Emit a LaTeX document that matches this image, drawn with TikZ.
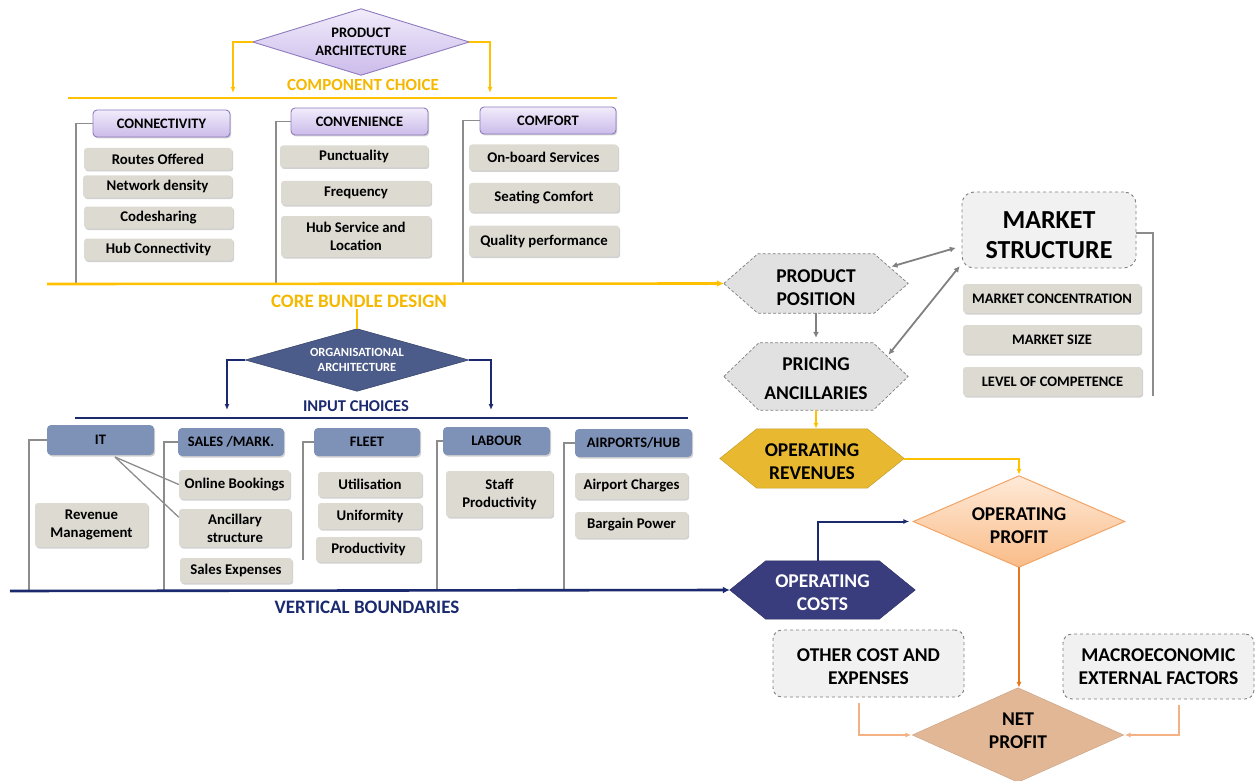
\documentclass[tikz,border=0pt]{standalone}
\usepackage{fontspec}
\setmainfont{Carlito}
\usetikzlibrary{arrows.meta,shadows,backgrounds,calc}

\definecolor{gold}{HTML}{FFC000}
\definecolor{goldtext}{HTML}{F5B800}
\definecolor{navy}{HTML}{1B2A6E}
\definecolor{itemgrey}{HTML}{DDDAD2}
\definecolor{bracketgrey}{HTML}{8C8C8C}
\definecolor{purpletop}{HTML}{F1ECFB}
\definecolor{purplebot}{HTML}{CBBBEA}
\definecolor{purpleedge}{HTML}{8E7BBE}
\definecolor{bluehead}{HTML}{7E92B8}
\definecolor{orgblue}{HTML}{4B5B8A}
\definecolor{hexgrey}{HTML}{E1E1E1}
\definecolor{boxgrey}{HTML}{F1F1F1}
\definecolor{dashgrey}{HTML}{7F7F7F}
\definecolor{revgold}{HTML}{E8B930}
\definecolor{costnavy}{HTML}{393D7E}
\definecolor{proftop}{HTML}{FFEAD8}
\definecolor{profbot}{HTML}{F9BC88}
\definecolor{profedge}{HTML}{F2A466}
\definecolor{nettan}{HTML}{E2B796}
\definecolor{darkorange}{HTML}{E8761C}
\definecolor{lightorange}{HTML}{F4B183}

% shape outlines drawn behind their (invisible) anchor nodes
\newcommand{\hexshape}[3]{\path[#3] (#1.west) -- ([xshift=#2]#1.north west) -- ([xshift=-#2]#1.north east) -- (#1.east) -- ([xshift=-#2]#1.south east) -- ([xshift=#2]#1.south west) -- cycle;}
\newcommand{\diashape}[2]{\path[#2] (#1.west) -- (#1.north) -- (#1.east) -- (#1.south) -- cycle;}

\begin{document}
\begin{tikzpicture}[x=1pt,y=-1pt,
  txt/.style={inner sep=0pt, align=center, font=\bfseries\fontsize{14.8}{18}\selectfont},
  headtxt/.style={font=\bfseries\fontsize{14.5}{18}\selectfont},
  softshadow/.style={drop shadow={shadow xshift=1.2pt, shadow yshift=-1.5pt, opacity=0.18, fill=black}},
  item/.style={txt, fill=itemgrey, rounded corners=3pt, softshadow},
  phead/.style={txt, headtxt, draw=purpleedge, line width=0.9pt, top color=purpletop, bottom color=purplebot, rounded corners=4pt, softshadow},
  bhead/.style={txt, headtxt, fill=bluehead, rounded corners=4pt, softshadow},
  anchorbox/.style={inner sep=0pt, align=center},
  bigtxt/.style={inner sep=0pt, align=center, font=\bfseries\fontsize{19.5}{23}\selectfont},
  dashbox/.style={anchorbox, draw=dashgrey, dashed, line width=0.9pt, fill=boxgrey, rounded corners=9pt},
  bracket/.style={draw=bracketgrey, line width=1.3pt},
  tipS/.style={-{Latex[length=6pt,width=5pt]}},
  ythin/.style={draw=gold, line width=1.4pt, tipS},
  ythick/.style={draw=gold, line width=2.6pt, -{Latex[length=7pt,width=7pt]}},
  nthin/.style={draw=navy, line width=1.4pt, tipS},
  nthick/.style={draw=navy, line width=2.6pt, -{Latex[length=7pt,width=7pt]}},
  garrow/.style={draw=gray, line width=1.8pt, -{Latex[length=6pt,width=6pt]}},
  gdouble/.style={draw=gray, line width=1.8pt, {Latex[length=6pt,width=6pt]}-{Latex[length=6pt,width=6pt]}},
]
\useasboundingbox (0,0) rectangle (1256,781);

% ---------------- product architecture ----------------
\node[anchorbox, minimum width=216, minimum height=66, font=\bfseries\fontsize{14.5}{18}\selectfont] (pa) at (361,42) {PRODUCT\\ARCHITECTURE};
\begin{scope}[on background layer]
  \diashape{pa}{draw=purpleedge, line width=0.9pt, top color=purpletop, bottom color=purplebot}
\end{scope}
\coordinate (paL) at (233,93);
\coordinate (paR) at (490,93);
\draw[ythin] (pa.west) -| (paL);
\draw[ythin] (pa.east) -| (paR);
\node[txt, text=goldtext, font=\bfseries\fontsize{17}{20}\selectfont] (cc) at (363,85) {COMPONENT CHOICE};
\coordinate (ccA) at (68,98);
\coordinate (ccB) at (617,98);
\draw[gold, line width=2pt] (ccA) -- (ccB);

% column headers
\node[phead, minimum width=137, minimum height=27] (hconn) at (161.5,123.5) {CONNECTIVITY};
\node[phead, minimum width=137, minimum height=27] (hconv) at (359.5,121.5) {CONVENIENCE};
\node[phead, minimum width=136, minimum height=27] (hcomf) at (548,120.5) {COMFORT};
\coordinate (bconn) at (76,284);
\coordinate (bconv) at (276,284);
\coordinate (bcomf) at (463,284);
\draw[bracket] (hconn.west) -| (bconn);
\draw[bracket] (hconv.west) -| (bconv);
\draw[bracket] (hcomf.west) -| (bcomf);

% component items
\node[item, minimum width=148, minimum height=22] (ro) at (158,159) {Routes Offered};
\node[item, minimum width=149, minimum height=22] (nd) at (157.5,186.5) {Network density};
\node[item, minimum width=149, minimum height=22] (cs) at (158.5,217.5) {Codesharing};
\node[item, minimum width=149, minimum height=22] (hc) at (158.5,249.5) {Hub Connectivity};
\node[item, minimum width=148, minimum height=22] (pu) at (354,156.5) {Punctuality};
\node[item, minimum width=150, minimum height=24] (fr) at (356,193) {Frequency};
\node[item, minimum width=150, minimum height=41] (hs) at (356,236.5) {Hub Service and\\Location};
\node[item, minimum width=149, minimum height=26] (obs) at (543.5,157.5) {On-board Services};
\node[item, minimum width=150, minimum height=29] (sc) at (544,197.5) {Seating Comfort};
\node[item, minimum width=150, minimum height=31] (qp) at (544,241) {Quality performance};

% core bundle design
\node[txt, text=goldtext, font=\bfseries\fontsize{19}{22}\selectfont] (core) at (359,301) {CORE BUNDLE DESIGN};
\coordinate (coreA) at (47,284);

% ---------------- organisational architecture ----------------
\node[anchorbox, minimum width=223, minimum height=62, text=white, font=\bfseries\fontsize{12.5}{15}\selectfont] (oa) at (357,360) {ORGANISATIONAL\\ARCHITECTURE};
\begin{scope}[on background layer]
  \diashape{oa}{fill=orgblue, draw=orgblue!80!black, line width=0.6pt}
\end{scope}
\draw[gold, line width=1.6pt] (core.south -| oa.north) ++(0,1) -- (oa.north);
\coordinate (oaL) at (227,410);
\coordinate (oaR) at (491,410);
\draw[nthin] (oa.west) -| (oaL);
\draw[nthin] (oa.east) -| (oaR);
\node[txt, text=navy, font=\bfseries\fontsize{16.5}{19}\selectfont] (ic) at (356,406) {INPUT CHOICES};
\coordinate (icA) at (75,418);
\coordinate (icB) at (688,418);
\draw[navy, line width=1.3pt] (icA) -- (icB);

% input headers
\node[bhead, minimum width=107, minimum height=30] (hit) at (100.5,440) {IT};
\node[bhead, minimum width=106, minimum height=28] (hsal) at (231,442) {SALES /MARK.};
\node[bhead, minimum width=106, minimum height=28] (hfl) at (367,442) {FLEET};
\node[bhead, minimum width=107, minimum height=28] (hlab) at (496.5,441) {LABOUR};
\node[bhead, minimum width=117, minimum height=28] (hair) at (633.5,443) {AIRPORTS/HUB};
\coordinate (bit) at (29,591);
\coordinate (bsal) at (164,591);
\coordinate (bfl) at (303,560);
\coordinate (blab) at (437,591);
\coordinate (bair) at (564,591);
\draw[bracket] (hit.west) -| (bit);
\draw[bracket] (hsal.west) -| (bsal);
\draw[bracket] (hfl.west) -| (bfl);
\draw[bracket] (hlab.west) -| (blab);
\draw[bracket] (hair.west) -| (bair);

% input items
\node[item, minimum width=113, minimum height=44] (rm) at (91.5,525) {Revenue\\Management};
\node[item, minimum width=111, minimum height=29] (ob) at (234.5,484.5) {Online Bookings};
\node[item, minimum width=112, minimum height=38] (ans) at (235,528) {Ancillary\\structure};
\node[item, minimum width=112, minimum height=25] (se) at (236,570.5) {Sales Expenses};
\node[item, minimum width=104, minimum height=25] (ut) at (370,484.5) {Utilisation};
\node[item, minimum width=104, minimum height=26] (un) at (370,516) {Uniformity};
\node[item, minimum width=105, minimum height=25] (prd) at (368.5,549.5) {Productivity};
\node[item, minimum width=107, minimum height=46] (sp) at (499.5,494) {Staff\\Productivity};
\node[item, minimum width=113, minimum height=26] (ach) at (631.5,486) {Airport Charges};
\node[item, minimum width=113, minimum height=26] (bp) at (631.5,525) {Bargain Power};

% IT links into sales items
\coordinate (itj) at (115,457);
\draw[bracket] (itj) -- (ob.west);
\draw[bracket] (itj) -- ($(ans.north west)!0.22!(ans.south west)$);

\node[txt, text=navy, font=\bfseries\fontsize{19}{22}\selectfont] (vb) at (367,607) {VERTICAL BOUNDARIES};
\coordinate (vbA) at (10,591);

% ---------------- right-hand flow ----------------
\node[anchorbox, minimum width=184, minimum height=59] (pp) at (816,283.5) {};
\node[anchorbox, minimum width=184, minimum height=67] (pri) at (816,376.5) {};
\node[anchorbox, minimum width=184, minimum height=59] (orv) at (812,458.5) {};
\node[anchorbox, minimum width=185, minimum height=58] (oc) at (822.5,590) {};
\node[anchorbox, minimum width=211, minimum height=91] (op) at (1019,521.5) {};
\node[anchorbox, minimum width=211, minimum height=94] (np) at (1018,735) {};
\begin{scope}[on background layer]
  \hexshape{pp}{34pt}{fill=hexgrey, draw=dashgrey, densely dashed, line width=0.7pt}
  \hexshape{pri}{35pt}{fill=hexgrey, draw=dashgrey, densely dashed, line width=0.7pt}
  \hexshape{orv}{37pt}{fill=revgold, draw=revgold!85!black, line width=0.5pt}
  \hexshape{oc}{36pt}{fill=costnavy, draw=costnavy!80!black, line width=0.5pt}
  \diashape{op}{top color=proftop, bottom color=profbot, draw=profedge, line width=1pt}
  \diashape{np}{fill=nettan, draw=nettan!90!black, line width=0.5pt}
\end{scope}
\node[bigtxt] (ppt) at ([yshift=-4pt]pp.center) {PRODUCT\\POSITION};
\node[bigtxt, font=\bfseries\fontsize{19.5}{29}\selectfont] (prit) at ([yshift=-2pt]pri.center) {PRICING\\ANCILLARIES};
\node[bigtxt] (orvt) at ([yshift=-3pt]orv.center) {OPERATING\\REVENUES};
\node[bigtxt, text=white] (oct) at ([yshift=-3pt]oc.center) {OPERATING\\COSTS};
\node[bigtxt] (opt) at ([yshift=-4pt]op.center) {OPERATING\\PROFIT};
\node[bigtxt] (npt) at ([yshift=4pt]np.center) {NET\\PROFIT};

% market structure
\node[dashbox, minimum width=174, minimum height=76, rounded corners=12pt] (ms) at (1049,230) {};
\node[bigtxt, font=\bfseries\fontsize{26}{30}\selectfont] (mst) at ([yshift=-5pt]ms.center) {MARKET\\STRUCTURE};
\node[item, headtxt, minimum width=178, minimum height=29] (mc) at (1052,298.5) {MARKET CONCENTRATION};
\node[item, headtxt, minimum width=178, minimum height=29] (msz) at (1052,339.5) {MARKET SIZE};
\node[item, headtxt, minimum width=179, minimum height=29] (lc) at (1052.5,381.5) {LEVEL OF COMPETENCE};
\coordinate (msb) at (1153,396);
\draw[bracket] ([yshift=-3pt]ms.east) -| (msb);

% other boxes feeding net profit
\node[dashbox, minimum width=191, minimum height=67] (oce) at (868.5,663.5) {};
\node[bigtxt] (ocet) at ([yshift=-3pt]oce.center) {OTHER COST AND\\EXPENSES};
\node[dashbox, minimum width=191, minimum height=65] (mef) at (1158.5,666.5) {};
\node[bigtxt] (meft) at ([yshift=-0.5pt]mef.center) {MACROECONOMIC\\EXTERNAL FACTORS};

% connectors
\draw[ythick] (coreA) -- (pp.west);
\draw[nthick] (vbA) -- (oc.west);
\draw[garrow, shorten >=5pt] (pp.south) -- (pri.north);
\draw[gdouble, shorten <=2pt, shorten >=6pt] ($(pp.east)!0.55!([xshift=-34pt]pp.north east)$) -- ($(ms.west)!0.42!(ms.south west)$);
\draw[gdouble, shorten <=2pt, shorten >=3pt] ($(pri.east)!0.6!([xshift=-35pt]pri.north east)$) -- ($(ms.west)!0.88!(ms.south west)$);
\draw[ythin, line width=2pt] (pri.south) -- (pri.south |- orv.north);
\draw[ythin, line width=2pt, shorten >=1pt] (orv.east) -| (op.north);
\draw[nthin, line width=2pt, shorten >=4pt] ([xshift=-5pt]oc.north) |- (op.west);
\draw[draw=darkorange, line width=2pt, tipS] (op.south) -- (op.south |- np.north);
\draw[draw=lightorange, line width=1.6pt, tipS, shorten <=6pt, shorten >=1pt] ([xshift=-9.5pt]oce.south) |- (np.west);
\draw[draw=lightorange, line width=1.6pt, tipS, shorten <=6pt, shorten >=1pt] ([xshift=20.5pt]mef.south) |- (np.east);
\end{tikzpicture}
\end{document}
